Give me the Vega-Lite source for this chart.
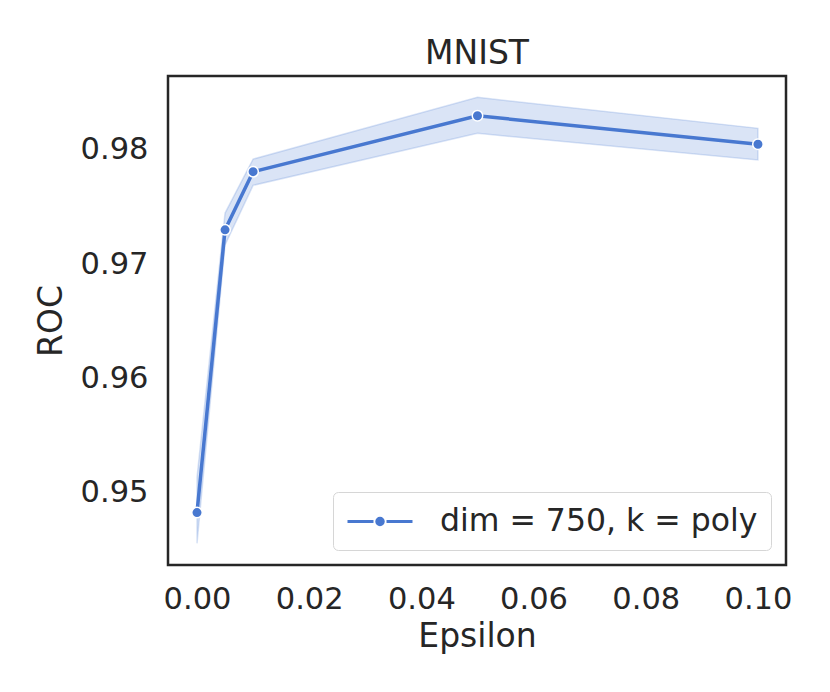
{
  "$schema": "https://vega.github.io/schema/vega-lite/v6.json",
  "width": 618,
  "height": 489,
  "autosize": {"type": "none"},
  "padding": {"left": 168, "top": 76, "right": 44, "bottom": 127},
  "background": "white",
  "config": {
    "font": "DejaVu Sans",
    "view": {"stroke": "#262626", "strokeWidth": 2.5},
    "axis": {
      "grid": false,
      "ticks": false,
      "domain": false,
      "labelFontSize": 30.5,
      "labelColor": "#262626",
      "titleFontSize": 33,
      "titleFontWeight": "normal",
      "titleColor": "#262626"
    }
  },
  "title": {
    "text": "MNIST",
    "fontSize": 33,
    "fontWeight": "normal",
    "color": "#262626",
    "baseline": "alphabetic",
    "offset": -21
  },
  "data": {
    "values": [
      {"eps": 0.0, "roc": 0.9482, "lo": 0.9455, "hi": 0.9513, "series": "dim = 750, k = poly"},
      {"eps": 0.005, "roc": 0.9730, "lo": 0.97167, "hi": 0.97447, "series": "dim = 750, k = poly"},
      {"eps": 0.01, "roc": 0.9781, "lo": 0.9769, "hi": 0.9792, "series": "dim = 750, k = poly"},
      {"eps": 0.05, "roc": 0.9830, "lo": 0.98146, "hi": 0.98462, "series": "dim = 750, k = poly"},
      {"eps": 0.1, "roc": 0.9805, "lo": 0.97912, "hi": 0.9819, "series": "dim = 750, k = poly"}
    ]
  },
  "encoding": {
    "x": {
      "field": "eps",
      "type": "quantitative",
      "scale": {"domain": [-0.00517, 0.105], "nice": false, "zero": false},
      "axis": {"title": "Epsilon", "values": [0, 0.02, 0.04, 0.06, 0.08, 0.1], "format": ".2f", "labelPadding": 19, "titlePadding": 6}
    }
  },
  "layer": [
    {
      "mark": {"type": "area", "fill": "#4878d0", "fillOpacity": 0.2, "stroke": "#4878d0", "strokeOpacity": 0.2, "strokeWidth": 1.5},
      "encoding": {
        "y": {"field": "lo", "type": "quantitative", "scale": {"domain": [0.9436, 0.98649], "nice": false, "zero": false},
          "axis": {"title": "ROC", "values": [0.95, 0.96, 0.97, 0.98], "format": ".2f", "labelPadding": 20, "titlePadding": 12}},
        "y2": {"field": "hi"}
      }
    },
    {
      "mark": {"type": "line", "strokeWidth": 3.5},
      "encoding": {
        "y": {"field": "roc", "type": "quantitative"},
        "color": {
          "field": "series",
          "type": "nominal",
          "scale": {"range": ["#4878d0"]},
          "legend": {
            "title": null,
            "orient": "bottom-right",
            "offset": 15,
            "padding": 13,
            "strokeColor": "#d6d6d6",
            "cornerRadius": 5,
            "fillColor": "white",
            "labelFontSize": 31.5,
            "labelColor": "#262626",
            "labelOffset": 61,
            "labelLimit": 500,
            "symbolType": "M-1,0H0.733M1.6,0H3.333M1.384,0A0.217,0.217,0,1,1,0.95,0A0.217,0.217,0,1,1,1.384,0Z",
            "symbolSize": 900,
            "symbolStrokeWidth": 3,
            "encode": {"symbols": {"update": {"fill": {"value": "#4878d0"}, "stroke": {"value": "#4878d0"}, "strokeWidth": {"value": 3}}}}
          }
        }
      }
    },
    {
      "mark": {"type": "point", "filled": true, "size": 110, "fill": "#4878d0", "stroke": "white", "strokeWidth": 1.5, "opacity": 1},
      "encoding": {
        "y": {"field": "roc", "type": "quantitative"}
      }
    }
  ]
}
